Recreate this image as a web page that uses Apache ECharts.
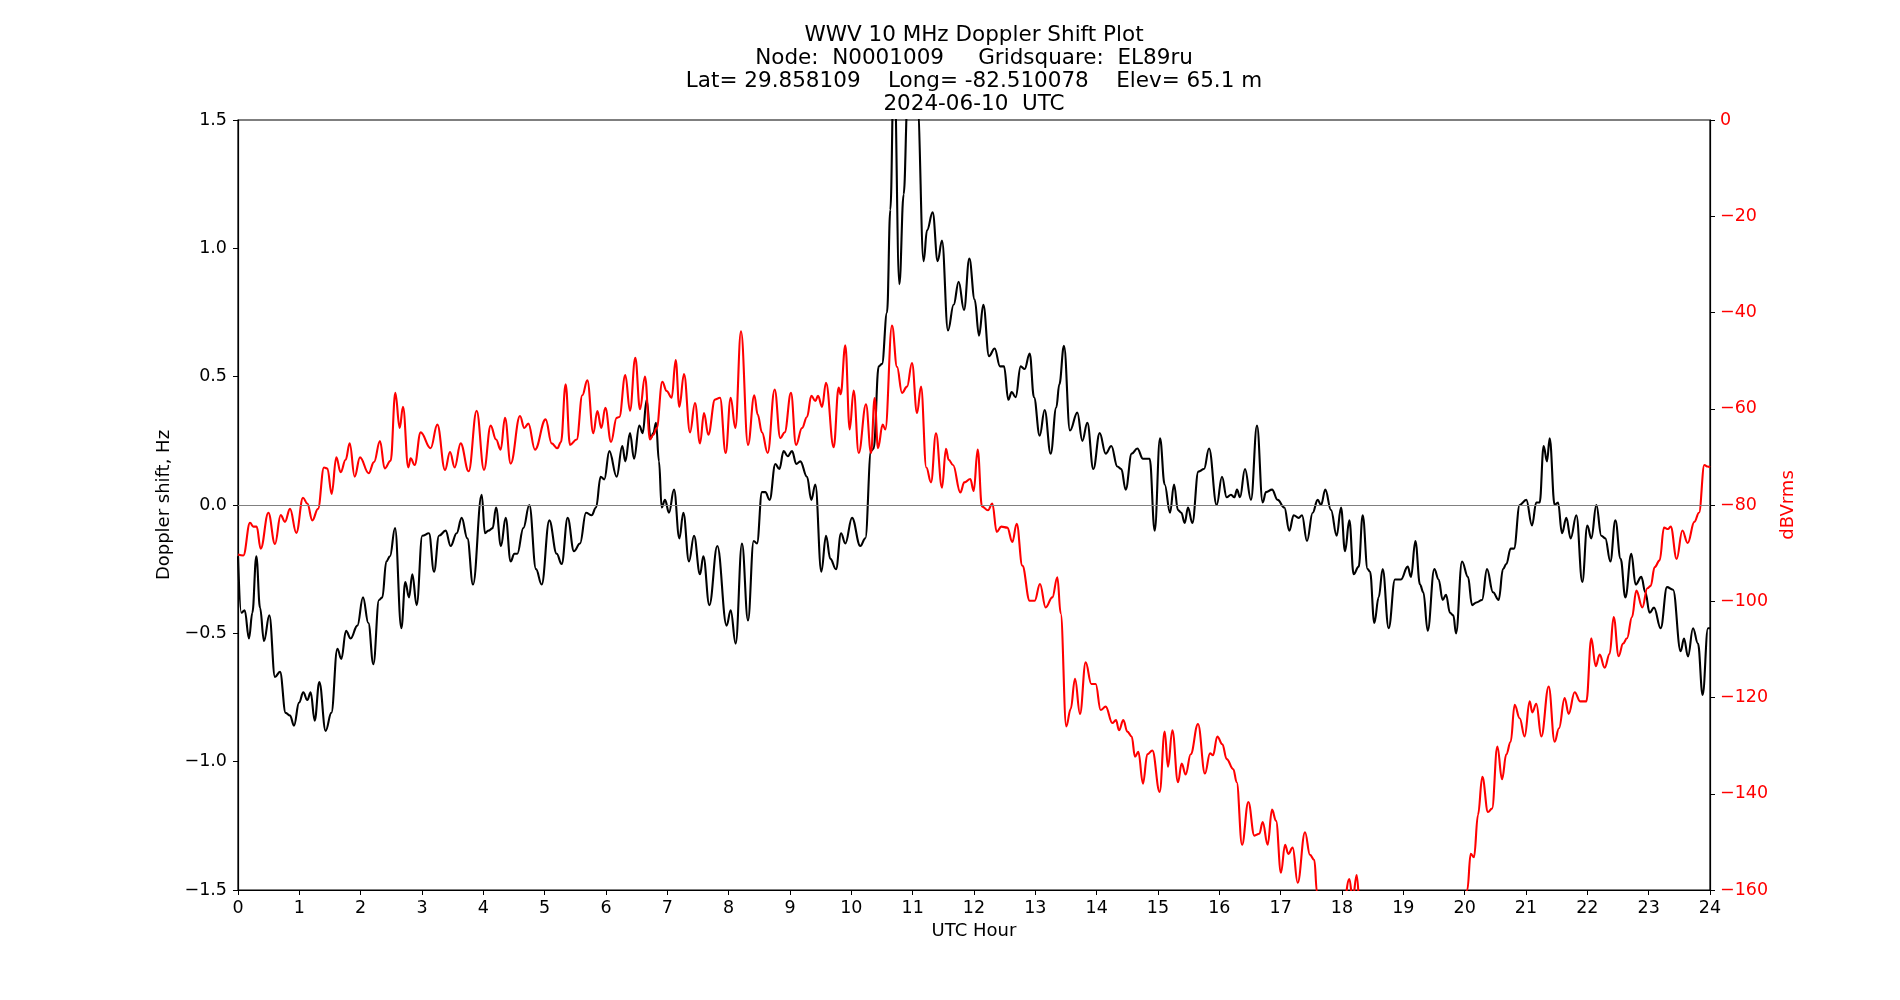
<!DOCTYPE html>
<html>
<head>
<meta charset="utf-8">
<script src="https://cdn.jsdelivr.net/npm/echarts@6/dist/echarts.min.js"></script>
<style>
  html, body { margin: 0; padding: 0; background: #fff; }
  #chart { width: 1900px; height: 1000px; }
</style>
</head>
<body>
<div id="chart"></div>
<script>
// title lines
const titleLines = [
  'WWV 10 MHz Doppler Shift Plot',
  'Node:  N0001009     Gridsquare:  EL89ru',
  'Lat= 29.858109    Long= -82.510078    Elev= 65.1 m',
  '2024-06-10  UTC'
]

// doppler shift (Hz)
const dopplerHours = [
  0.0, 0.054, 0.109, 0.179, 0.234, 0.299, 0.359, 0.424, 0.511, 0.603, 0.685, 0.777, 0.848, 0.913, 0.995,
  1.065, 1.130, 1.185, 1.250, 1.326, 1.429, 1.522, 1.620, 1.685, 1.761, 1.837, 1.946, 2.038, 2.125, 2.207,
  2.299, 2.353, 2.418, 2.478, 2.560, 2.663, 2.728, 2.788, 2.842, 2.913, 3.005, 3.114, 3.196, 3.277, 3.386,
  3.467, 3.565, 3.647, 3.739, 3.832, 3.973, 4.027, 4.082, 4.152, 4.207, 4.288, 4.364, 4.446, 4.505, 4.554,
  4.652, 4.750, 4.859, 4.951, 5.076, 5.196, 5.277, 5.375, 5.478, 5.576, 5.674, 5.766, 5.837, 5.913, 5.973,
  6.054, 6.174, 6.266, 6.315, 6.391, 6.457, 6.543, 6.598, 6.663, 6.728, 6.772, 6.815, 6.864, 6.908, 6.962,
  7.027, 7.109, 7.196, 7.261, 7.353, 7.435, 7.533, 7.587, 7.685, 7.815, 7.967, 8.033, 8.114, 8.217, 8.315,
  8.408, 8.462, 8.543, 8.598, 8.668, 8.761, 8.826, 8.897, 8.962, 9.033, 9.103, 9.168, 9.277, 9.348, 9.413,
  9.511, 9.587, 9.658, 9.750, 9.832, 9.902, 10.011, 10.147, 10.228, 10.321, 10.364, 10.446, 10.500, 10.582, 10.636,
  10.696, 10.783, 10.853, 10.920, 10.999, 11.080, 11.179, 11.234, 11.326, 11.408, 11.478, 11.576, 11.668, 11.750, 11.837,
  11.924, 12.011, 12.082, 12.152, 12.245, 12.337, 12.424, 12.489, 12.560, 12.614, 12.679, 12.761, 12.826, 12.908, 12.978,
  13.071, 13.152, 13.250, 13.342, 13.391, 13.467, 13.565, 13.685, 13.766, 13.848, 13.946, 14.049, 14.147, 14.239, 14.337,
  14.402, 14.473, 14.571, 14.663, 14.755, 14.864, 14.946, 15.033, 15.109, 15.196, 15.261, 15.326, 15.380, 15.435, 15.489,
  15.560, 15.658, 15.750, 15.832, 15.957, 16.043, 16.120, 16.190, 16.245, 16.288, 16.337, 16.418, 16.516, 16.614, 16.707,
  16.761, 16.859, 16.951, 17.060, 17.141, 17.212, 17.293, 17.348, 17.429, 17.522, 17.603, 17.658, 17.728, 17.821, 17.913,
  17.984, 18.049, 18.120, 18.190, 18.272, 18.337, 18.418, 18.457, 18.527, 18.598, 18.663, 18.761, 18.864, 18.962, 19.071,
  19.125, 19.196, 19.272, 19.326, 19.397, 19.505, 19.576, 19.641, 19.696, 19.761, 19.815, 19.859, 19.957, 20.054, 20.120,
  20.190, 20.283, 20.364, 20.462, 20.554, 20.625, 20.679, 20.750, 20.804, 20.897, 21.005, 21.098, 21.168, 21.223, 21.288,
  21.342, 21.386, 21.467, 21.522, 21.587, 21.658, 21.728, 21.821, 21.918, 22.000, 22.065, 22.147, 22.228, 22.293, 22.375,
  22.457, 22.543, 22.620, 22.717, 22.788, 22.880, 22.946, 23.016, 23.087, 23.196, 23.299, 23.397, 23.522, 23.576, 23.641,
  23.723, 23.804, 23.880, 23.967, 24.0
]
const dopplerValues = [
  -0.20, -0.42, -0.41, -0.52, -0.42, -0.20, -0.40, -0.53, -0.43, -0.67, -0.65, -0.81, -0.82, -0.86, -0.77,
  -0.73, -0.76, -0.73, -0.84, -0.69, -0.88, -0.81, -0.56, -0.60, -0.49, -0.52, -0.47, -0.36, -0.46, -0.62,
  -0.37, -0.36, -0.22, -0.20, -0.09, -0.48, -0.30, -0.36, -0.27, -0.39, -0.12, -0.11, -0.26, -0.12, -0.10,
  -0.16, -0.11, -0.05, -0.13, -0.31, 0.04, -0.11, -0.10, -0.09, -0.01, -0.16, -0.05, -0.22, -0.19, -0.19,
  -0.09, 0.00, -0.25, -0.31, -0.06, -0.19, -0.23, -0.05, -0.18, -0.15, -0.03, -0.04, -0.01, 0.11, 0.10,
  0.21, 0.11, 0.23, 0.17, 0.28, 0.18, 0.31, 0.28, 0.41, 0.26, 0.28, 0.32, 0.17, -0.01, 0.02,
  -0.03, 0.06, -0.13, -0.03, -0.22, -0.12, -0.27, -0.20, -0.39, -0.16, -0.47, -0.41, -0.54, -0.15, -0.45,
  -0.14, -0.15, 0.05, 0.05, 0.02, 0.16, 0.14, 0.21, 0.19, 0.21, 0.16, 0.17, 0.11, 0.02, 0.08,
  -0.26, -0.12, -0.21, -0.25, -0.11, -0.15, -0.05, -0.16, -0.13, 0.21, 0.22, 0.54, 0.55, 0.75, 1.15,
  1.75, 0.86, 1.21, 1.60, 1.95, 1.55, 0.95, 1.07, 1.14, 0.95, 1.03, 0.68, 0.78, 0.87, 0.76,
  0.96, 0.80, 0.66, 0.78, 0.58, 0.61, 0.54, 0.54, 0.41, 0.44, 0.42, 0.54, 0.53, 0.59, 0.42,
  0.27, 0.37, 0.20, 0.38, 0.47, 0.62, 0.29, 0.36, 0.25, 0.32, 0.14, 0.28, 0.20, 0.23, 0.15,
  0.14, 0.06, 0.20, 0.22, 0.18, 0.18, -0.10, 0.26, 0.08, -0.03, 0.08, -0.02, -0.03, -0.07, -0.01,
  -0.07, 0.13, 0.14, 0.22, 0.00, 0.11, 0.03, 0.04, 0.03, 0.06, 0.03, 0.14, 0.02, 0.31, 0.01,
  0.05, 0.06, 0.02, -0.01, -0.10, -0.04, -0.05, -0.04, -0.14, -0.03, 0.02, 0.00, 0.06, -0.02, -0.12,
  -0.01, -0.18, -0.06, -0.27, -0.24, -0.04, -0.25, -0.26, -0.46, -0.36, -0.25, -0.48, -0.29, -0.29, -0.24,
  -0.28, -0.14, -0.31, -0.34, -0.49, -0.25, -0.29, -0.37, -0.35, -0.42, -0.43, -0.50, -0.22, -0.28, -0.39,
  -0.38, -0.37, -0.25, -0.34, -0.37, -0.25, -0.23, -0.17, -0.17, 0.00, 0.02, -0.08, 0.01, 0.01, 0.23,
  0.17, 0.26, 0.00, 0.01, -0.11, -0.05, -0.13, -0.04, -0.30, -0.08, -0.13, 0.00, -0.12, -0.13, -0.22,
  -0.06, -0.21, -0.36, -0.19, -0.31, -0.28, -0.34, -0.42, -0.40, -0.48, -0.32, -0.33, -0.57, -0.52, -0.59,
  -0.48, -0.54, -0.74, -0.48, -0.48
]

// signal level (dBVrms)
const powerHours = [
  0.0, 0.087, 0.196, 0.250, 0.304, 0.370, 0.495, 0.603, 0.696, 0.766, 0.848, 0.951, 1.060, 1.130, 1.212,
  1.304, 1.402, 1.457, 1.527, 1.603, 1.674, 1.755, 1.821, 1.902, 1.989, 2.130, 2.217, 2.315, 2.391, 2.489,
  2.565, 2.636, 2.690, 2.777, 2.815, 2.880, 2.978, 3.141, 3.250, 3.375, 3.457, 3.533, 3.630, 3.761, 3.891,
  4.011, 4.120, 4.207, 4.283, 4.353, 4.446, 4.598, 4.668, 4.734, 4.842, 5.016, 5.114, 5.207, 5.266, 5.342,
  5.413, 5.522, 5.614, 5.696, 5.793, 5.859, 5.924, 5.989, 6.082, 6.174, 6.217, 6.315, 6.391, 6.478, 6.554,
  6.636, 6.717, 6.772, 6.826, 6.918, 6.989, 7.071, 7.136, 7.196, 7.272, 7.370, 7.451, 7.533, 7.598, 7.668,
  7.777, 7.859, 7.951, 8.033, 8.109, 8.201, 8.315, 8.418, 8.473, 8.543, 8.636, 8.750, 8.842, 8.913, 9.016,
  9.098, 9.196, 9.277, 9.348, 9.413, 9.457, 9.522, 9.587, 9.712, 9.793, 9.826, 9.902, 9.973, 10.038, 10.120,
  10.239, 10.321, 10.380, 10.435, 10.511, 10.554, 10.663, 10.745, 10.826, 10.908, 10.989, 11.071, 11.136, 11.223, 11.299,
  11.380, 11.478, 11.543, 11.587, 11.658, 11.777, 11.842, 11.940, 11.995, 12.060, 12.130, 12.228, 12.299, 12.370, 12.446,
  12.543, 12.625, 12.696, 12.788, 12.908, 12.989, 13.076, 13.168, 13.277, 13.359, 13.413, 13.505, 13.576, 13.647, 13.728,
  13.821, 13.913, 13.984, 14.065, 14.147, 14.255, 14.315, 14.364, 14.435, 14.500, 14.571, 14.625, 14.679, 14.755, 14.826,
  14.908, 15.027, 15.109, 15.163, 15.234, 15.326, 15.386, 15.451, 15.533, 15.652, 15.766, 15.848, 15.897, 15.967, 16.049,
  16.120, 16.228, 16.283, 16.370, 16.473, 16.571, 16.652, 16.707, 16.788, 16.859, 16.924, 17.005, 17.071, 17.125, 17.196,
  17.277, 17.397, 17.478, 17.549, 17.592, 17.700, 17.850, 18.000, 18.120, 18.174, 18.239, 18.300, 18.500, 18.900, 19.300,
  19.700, 19.950, 20.043, 20.098, 20.152, 20.217, 20.288, 20.380, 20.446, 20.533, 20.609, 20.679, 20.750, 20.815, 20.897,
  20.978, 21.060, 21.103, 21.168, 21.250, 21.370, 21.467, 21.538, 21.630, 21.696, 21.793, 21.886, 21.984, 22.065, 22.136,
  22.201, 22.283, 22.364, 22.429, 22.511, 22.582, 22.647, 22.728, 22.799, 22.897, 22.978, 23.033, 23.098, 23.179, 23.250,
  23.315, 23.359, 23.457, 23.549, 23.636, 23.745, 23.821, 23.908, 23.962, 24.0
]
const powerValues = [
  -90.3, -90.5, -83.7, -84.5, -84.5, -89.1, -81.6, -88.1, -82.1, -83.5, -80.8, -85.8, -78.5, -79.7, -83.2,
  -80.8, -72.2, -72.4, -77.7, -70.1, -73.2, -70.6, -67.2, -74.1, -70.1, -73.4, -71.1, -66.7, -72.4, -70.8,
  -56.7, -64.0, -59.6, -72.2, -70.3, -71.7, -64.9, -68.2, -63.3, -72.7, -69.0, -72.2, -67.2, -73.0, -60.4,
  -72.7, -63.5, -66.4, -68.5, -61.9, -71.4, -61.5, -64.0, -63.1, -68.5, -62.2, -67.2, -68.2, -66.9, -54.9,
  -67.5, -66.4, -57.2, -54.1, -65.1, -60.5, -64.0, -59.8, -66.9, -61.9, -61.7, -53.0, -60.4, -49.4, -60.1,
  -53.3, -66.4, -65.4, -64.0, -54.4, -56.3, -57.7, -49.9, -59.6, -52.8, -64.9, -58.8, -67.2, -60.9, -65.4,
  -58.1, -57.7, -69.2, -57.7, -64.0, -43.9, -67.5, -57.2, -61.2, -64.9, -69.2, -56.0, -66.1, -64.9, -56.7,
  -67.5, -64.0, -61.7, -57.3, -58.4, -57.3, -59.6, -54.6, -68.0, -55.6, -57.0, -46.8, -64.3, -56.2, -69.2,
  -59.1, -69.2, -57.8, -68.2, -63.3, -64.3, -42.7, -51.3, -56.7, -55.4, -50.5, -60.9, -55.4, -72.2, -75.3,
  -65.1, -76.4, -68.3, -70.6, -71.7, -77.4, -75.3, -74.6, -77.1, -68.5, -80.3, -81.1, -79.7, -85.6, -84.5,
  -84.7, -87.7, -83.9, -92.6, -99.9, -99.9, -96.4, -101.3, -99.2, -95.0, -102.5, -126.0, -122.4, -116.1, -123.4,
  -112.7, -117.2, -117.2, -122.6, -121.9, -125.3, -124.7, -126.8, -124.7, -127.1, -128.1, -132.3, -131.3, -137.9, -131.8,
  -131.0, -139.6, -127.1, -134.4, -126.8, -137.6, -133.7, -136.0, -131.8, -125.5, -135.8, -131.6, -132.0, -128.1, -129.7,
  -132.8, -134.9, -137.6, -150.6, -141.7, -148.7, -148.3, -145.9, -150.6, -143.3, -145.6, -156.4, -150.6, -152.5, -151.2,
  -158.5, -148.0, -152.7, -153.8, -160.5, -167, -172, -166, -157.7, -162, -156.9, -165, -172, -176, -175,
  -171, -166, -160, -152.5, -153.2, -144.4, -136.5, -143.8, -143.1, -130.2, -137.0, -131.8, -129.2, -121.5, -124.3,
  -128.1, -120.8, -123.1, -121.3, -128.1, -117.7, -129.2, -126.4, -120.1, -123.4, -118.9, -120.8, -120.8, -107.7, -113.5,
  -111.1, -113.8, -110.9, -103.3, -111.4, -108.8, -107.7, -103.3, -97.8, -101.3, -97.3, -96.8, -92.9, -91.5, -84.7,
  -85.0, -84.5, -91.2, -85.3, -87.9, -83.5, -81.6, -71.7, -72.0, -72.2
]

const pair = (xs, ys) => xs.map((x, i) => [x, ys[i]])
const minus = (s) => String(s).replace('-', '\u2212')
const font = 'DejaVu Sans'

const myChart = echarts.init(document.getElementById('chart'))

const option = {
  animation: false,
  backgroundColor: '#ffffff',
  graphic: titleLines.map((t, i) => ({
    type: 'text',
    x: 974,
    y: 35 + i * 23,
    style: {
      text: t,
      font: '21.5px "DejaVu Sans"',
      fill: '#000',
      textAlign: 'center',
      textVerticalAlign: 'middle'
    }
  })),
  grid: { left: 238, top: 120, width: 1472, height: 770, show: true, borderColor: '#000', borderWidth: 1.2 },
  xAxis: {
    type: 'value',
    min: 0,
    max: 24,
    interval: 1,
    name: 'UTC Hour',
    nameLocation: 'middle',
    nameGap: 32,
    nameTextStyle: { fontFamily: font, fontSize: 18, color: '#000' },
    axisLine: { onZero: false, lineStyle: { color: '#000', width: 1.2 } },
    axisTick: { show: true, length: 5, lineStyle: { color: '#000' } },
    axisLabel: { fontFamily: font, fontSize: 17.5, color: '#000', margin: 9 },
    splitLine: { show: false }
  },
  yAxis: [
    {
      type: 'value',
      min: -1.5,
      max: 1.5,
      interval: 0.5,
      position: 'left',
      name: 'Doppler shift, Hz',
      nameLocation: 'middle',
      nameRotate: 90,
      nameGap: 48,
      nameTextStyle: { fontFamily: font, fontSize: 18, color: '#000' },
      axisLine: { show: true, onZero: false, lineStyle: { color: '#000', width: 1.2 } },
      axisTick: { show: true, length: 5, lineStyle: { color: '#000' } },
      axisLabel: { fontFamily: font, fontSize: 17.5, color: '#000', margin: 11, formatter: (v) => minus(v.toFixed(1)) },
      splitLine: { show: false }
    },
    {
      type: 'value',
      min: -160,
      max: 0,
      interval: 20,
      position: 'right',
      name: 'dBVrms',
      nameLocation: 'middle',
      nameRotate: 90,
      nameGap: 59,
      nameTextStyle: { fontFamily: font, fontSize: 18, color: '#ff0000' },
      axisLine: { show: true, onZero: false, lineStyle: { color: '#000', width: 1.2 } },
      axisTick: { show: true, length: 5, lineStyle: { color: '#000' } },
      axisLabel: { fontFamily: font, fontSize: 17.5, color: '#ff0000', margin: 10, formatter: (v) => minus(v) },
      splitLine: { show: false }
    }
  ],
  series: [
    {
      name: 'Doppler',
      type: 'line',
      yAxisIndex: 0,
      data: pair(dopplerHours, dopplerValues),
      smooth: 0.4,
      smoothMonotone: 'x',
      showSymbol: false,
      clip: true,
      lineStyle: { color: '#000', width: 2.1 },
      markLine: {
        silent: true,
        symbol: 'none',
        label: { show: false },
        lineStyle: { color: '#808080', width: 1, type: 'solid' },
        data: [{ yAxis: 0 }]
      }
    },
    {
      name: 'dBVrms',
      type: 'line',
      yAxisIndex: 1,
      data: pair(powerHours, powerValues),
      smooth: 0.4,
      smoothMonotone: 'x',
      showSymbol: false,
      clip: true,
      lineStyle: { color: '#ff0000', width: 2.1 }
    }
  ]
}
option && myChart.setOption(option)
</script>
</body>
</html>
